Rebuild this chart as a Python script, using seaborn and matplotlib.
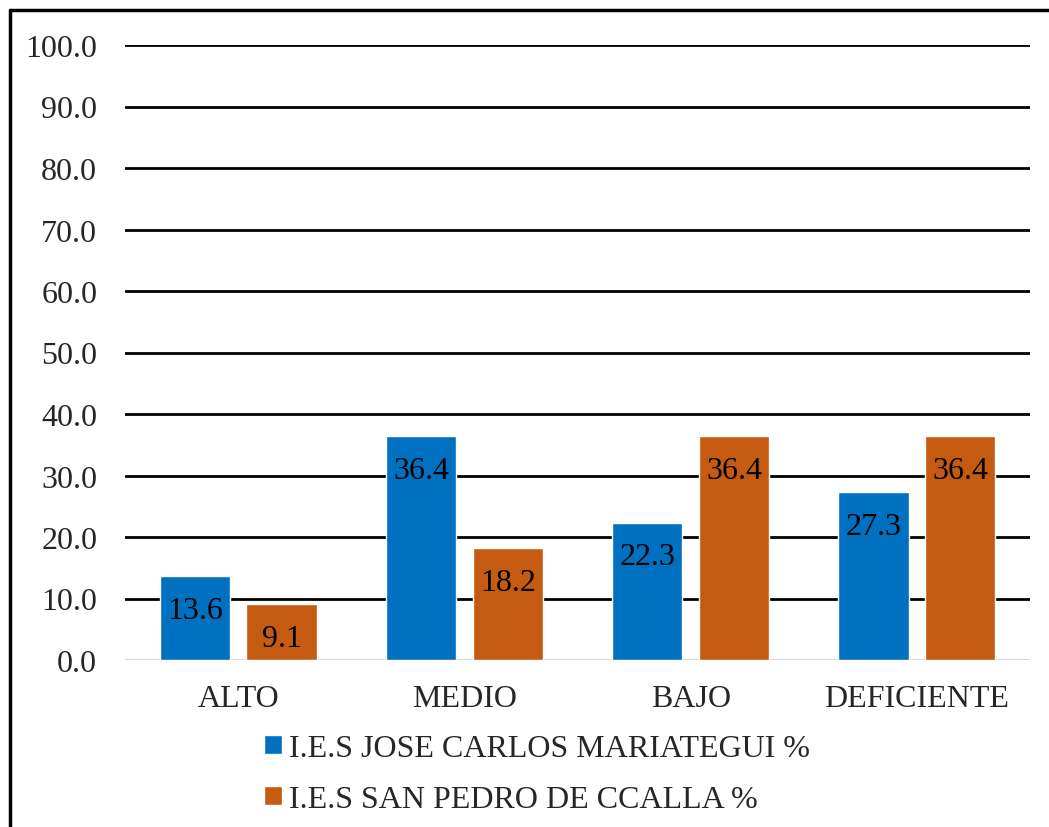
import matplotlib
matplotlib.use("Agg")
import matplotlib.pyplot as plt
import seaborn as sns
import pandas as pd
from matplotlib.lines import Line2D

categories = ["ALTO", "MEDIO", "BAJO", "DEFICIENTE"]
series_names = ["I.E.S JOSE CARLOS MARIATEGUI %", "I.E.S SAN PEDRO DE CCALLA %"]
jose_values = [13.6, 36.4, 22.3, 27.3]
pedro_values = [9.1, 18.2, 36.4, 36.4]
y_ticks = [0, 10, 20, 30, 40, 50, 60, 70, 80, 90, 100]
colors = ["#0070C0", "#C55A11"]

df = pd.DataFrame({
    "cat": categories * 2,
    "serie": [series_names[0]] * 4 + [series_names[1]] * 4,
    "val": jose_values + pedro_values,
})

sns.set_theme(style="white")
plt.rcParams["font.family"] = ["Liberation Serif", "DejaVu Serif"]
FS = 23

fig = plt.figure(figsize=(10.49, 8.28), dpi=100)
ax = fig.add_axes([125/1049, 1 - 661/828, (1030-125)/1049, (661-46)/828])

sns.barplot(data=df, x="cat", y="val", hue="serie", palette=colors,
            width=0.766, gap=0.19, ax=ax, saturation=1, legend=True, zorder=3)

ax.set_ylim(0, 100)
ax.set_xlim(-0.5, 3.5)
ax.set_yticks(y_ticks)
ax.set_yticklabels([f"{v:.1f}" for v in y_ticks], fontsize=FS)
ax.tick_params(axis="y", length=0, pad=20)
ax.tick_params(axis="x", length=0, pad=17, labelsize=FS)
ax.set_xlabel("")
ax.set_ylabel("")
for s in ax.spines.values():
    s.set_visible(False)
for v in y_ticks[1:]:
    ax.axhline(v, color="black", lw=2, zorder=1)
ax.axhline(0, color="#D9D9D9", lw=1.5, zorder=1)

for cont in ax.containers:
    ax.bar_label(cont, labels=[f"{p.get_height():.1f}" for p in cont],
                 label_type="edge", padding=-35, fontsize=FS, color="black")

handles, labels = ax.get_legend_handles_labels()
ax.legend_.remove()
fig.legend(handles, labels, loc="upper left", bbox_to_anchor=(264/1049, 1 - 735/828),
           ncol=1, frameon=False, fontsize=FS, handlelength=0.55, handleheight=0.55,
           handletextpad=0.22, labelspacing=0.69, borderaxespad=0, borderpad=0)

fig.add_artist(Line2D([10/1049, 10/1049], [0, 1 - 11/828], transform=fig.transFigure, color="black", lw=2.5))
fig.add_artist(Line2D([10/1049, 1], [1 - 11/828, 1 - 11/828], transform=fig.transFigure, color="black", lw=2.5))

fig.savefig("out.png", dpi=100)
